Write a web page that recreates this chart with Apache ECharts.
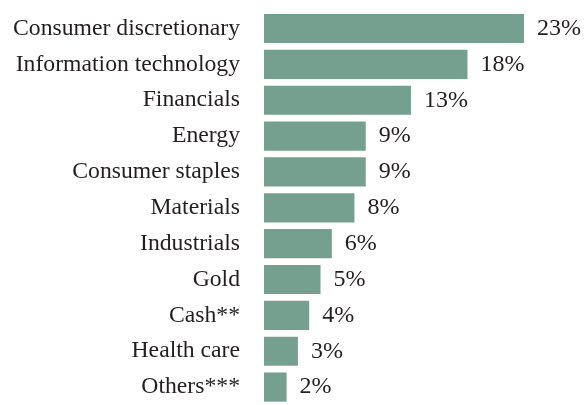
<!DOCTYPE html>
<html>
<head>
<meta charset="utf-8">
<script src="https://cdn.jsdelivr.net/npm/echarts@6/dist/echarts.min.js"></script>
<style>
  html, body { margin: 0; padding: 0; background: #fff; }
  #main { width: 585px; height: 405px; }
</style>
</head>
<body>
<div id="main"></div>
<script>
  // sector weights, top to bottom
  const sectors = [
    'Consumer discretionary', 'Information technology', 'Financials', 'Energy',
    'Consumer staples', 'Materials', 'Industrials', 'Gold', 'Cash**',
    'Health care', 'Others***'
  ];
  const weights = [23, 18, 13, 9, 9, 8, 6, 5, 4, 3, 2];

  const chart = echarts.init(document.getElementById('main'));
  chart.setOption({
    animation: false,
    textStyle: { fontFamily: 'Liberation Serif' },
    grid: { left: 264, top: 10.6, width: 260, height: 401.5, containLabel: false },
    xAxis: {
      type: 'value',
      min: 0,
      max: 23,
      show: false
    },
    yAxis: {
      type: 'category',
      data: sectors,
      inverse: true,
      axisLine: { show: false },
      axisTick: { show: false },
      axisLabel: {
        margin: 24,
        color: '#231f20',
        fontSize: 23.7,
        fontFamily: 'Liberation Serif',
        padding: [0, 0, 9, 0]
      }
    },
    series: [
      {
        type: 'bar',
        data: weights,
        barCategoryGap: '18.6%',
        itemStyle: { color: '#75a08f' },
        label: {
          show: true,
          position: 'right',
          distance: 13,
          formatter: '{c}%',
          color: '#231f20',
          fontSize: 24,
          fontFamily: 'Liberation Serif'
        }
      }
    ]
  });
</script>
</body>
</html>
